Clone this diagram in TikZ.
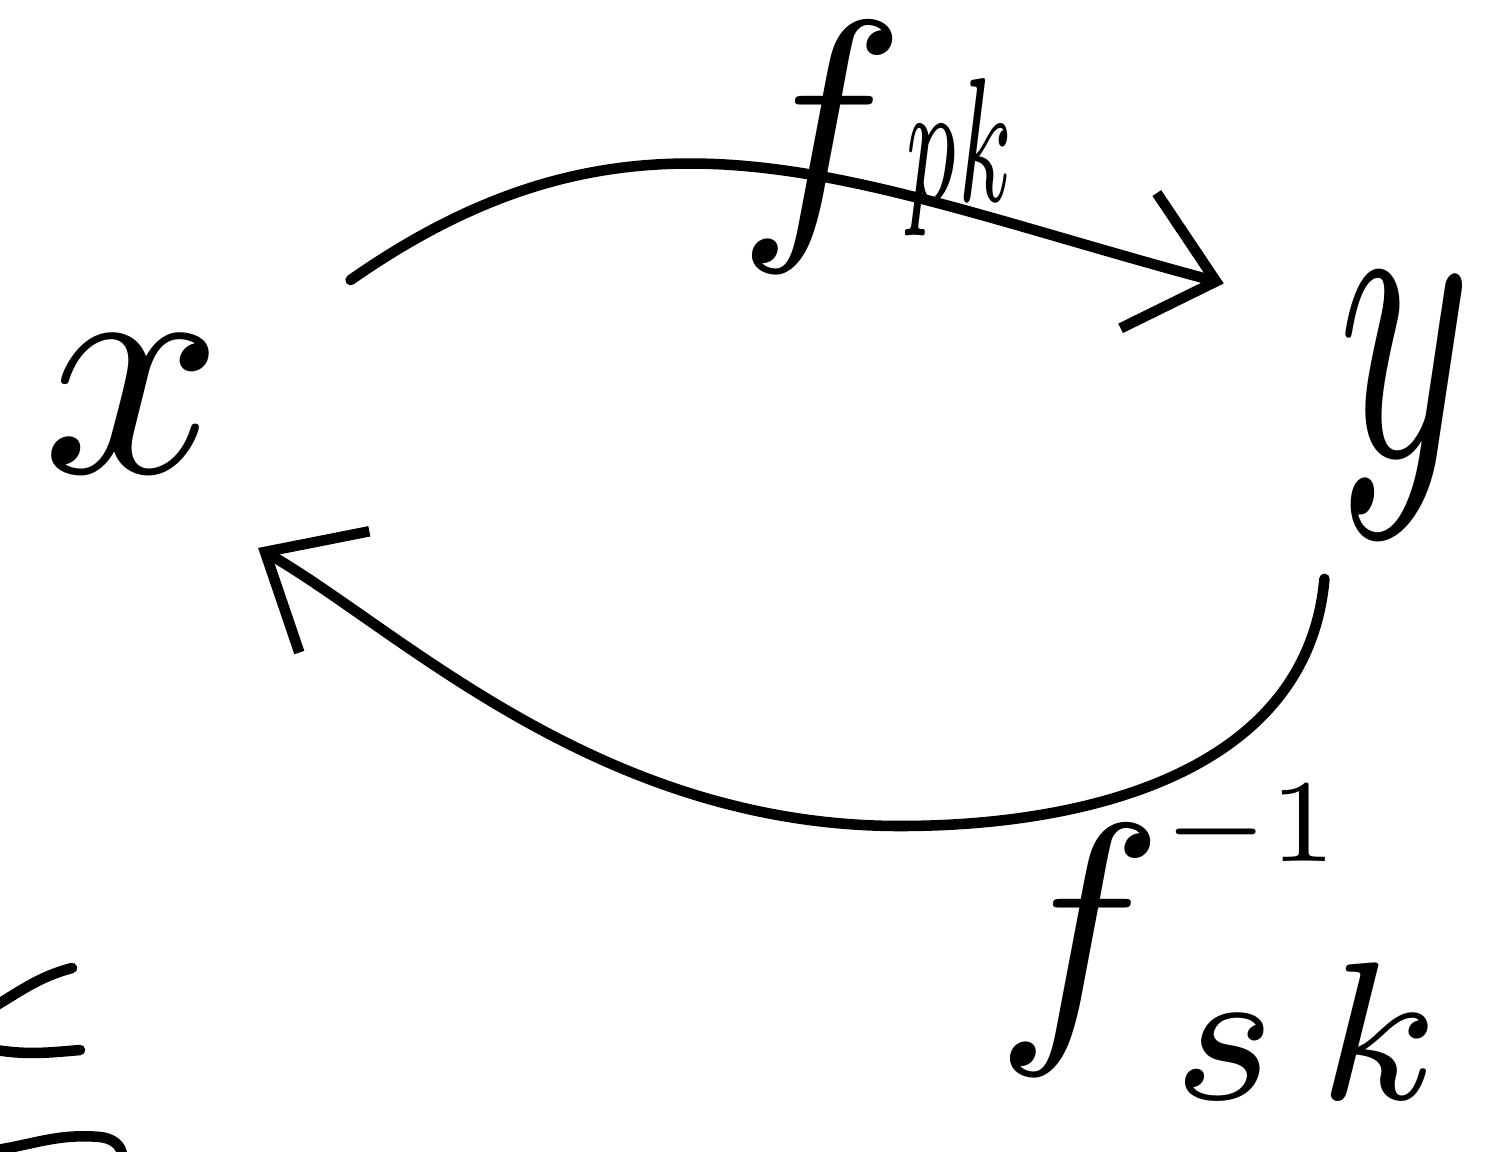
\documentclass[tikz,border=0pt]{standalone}
\usepackage{graphicx}
\usetikzlibrary{arrows.meta}
\newcommand{\handtext}[2]{\scalebox{#1}{$#2$}}
\newcommand{\handsub}[3]{\raisebox{#1}{\scalebox{#2}[0.9]{$\scriptstyle #3$}}}
\begin{document}
\begin{tikzpicture}[
	stroke/.style={ line width=3pt, line cap=round, line join=round },
	point/.style={ circle, inner sep=0pt, minimum size=3.8cm },
	tag/.style={ inner sep=0pt, anchor=base west },
	barb/.style={ -{Straight Barb[length=0.8cm,width=1.4cm]} }
]
\useasboundingbox (0,0) rectangle (15.05,11.51);

\node at (1.33,7.47) (x) [point] {\handtext{9}{x}};
\node at (14.05,7.45) (y) [point] {\scalebox{7.2}[12]{$y$}};
\node at (7.37,9.33) (fpk) [tag] {\handtext{8}{f\handsub{0.6pt}{0.45}{pk}}};
\node at (9.95,1.31) (fsk) [tag] {\handtext{8}{f^{\raisebox{2pt}{\scalebox{0.6}{$\scriptstyle -1$}}}_{\,s\,k}}};
\coordinate (low) at (9.0,3.25);

\draw [stroke,barb,shorten <=0.6cm,shorten >=0.3cm] (x.28) to[out=35,in=165,looseness=1.12] (y.143);
\draw [stroke,barb] (y.245) to[out=265,in=0,looseness=1] (low) to[out=180,in=-30,out looseness=1.1,in looseness=0.6] (x.-49);

\draw [stroke] (-0.1,1.42) to[out=30,in=195] (0.72,1.83);
\draw [stroke] (-0.1,1.02) to[out=-10,in=185] (0.8,1.01);
\draw [stroke] (-0.1,0.0) to[out=8,in=175] (1.0,0.14) to[out=-5,in=90] (1.22,-0.05);

\end{tikzpicture}
\end{document}
